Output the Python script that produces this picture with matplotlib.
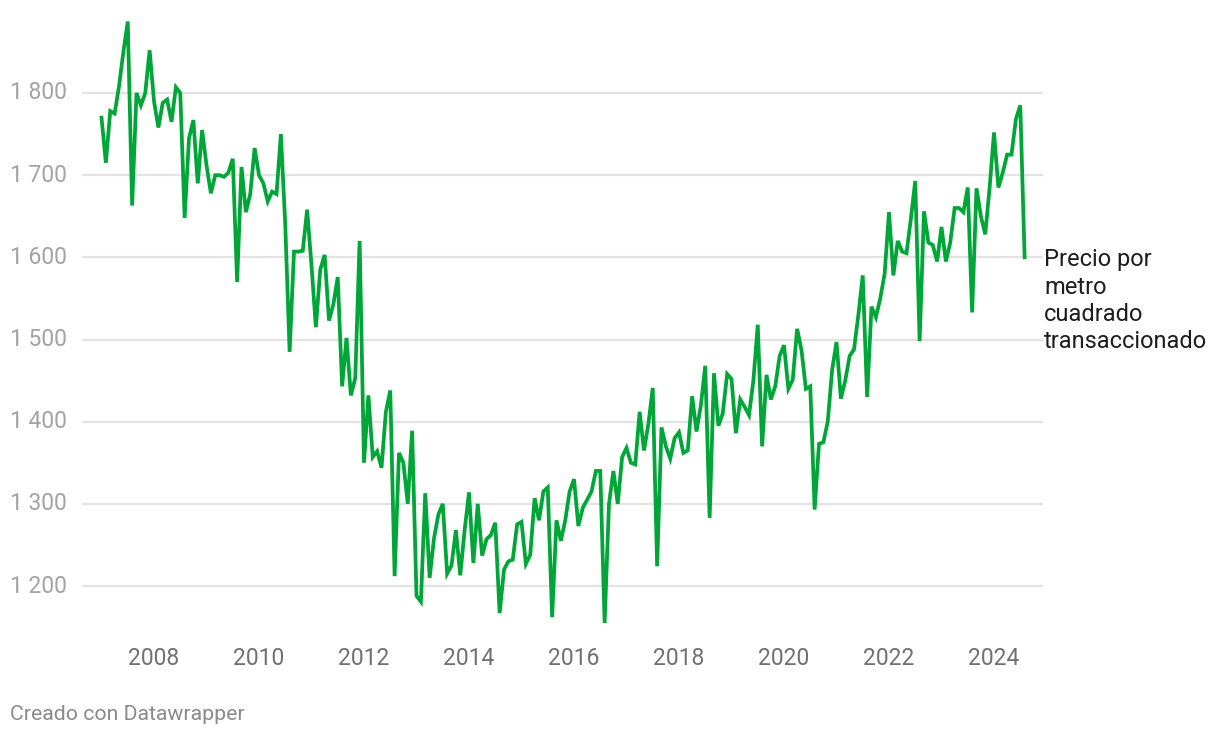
import matplotlib
matplotlib.use("Agg")
import matplotlib.pyplot as plt
import matplotlib.transforms as mtrans
import numpy as np

plt.rcParams['font.family'] = ['Roboto', 'DejaVu Sans']

start_year = 2007
prices = [
    # 2007
    1770, 1715, 1778, 1775, 1808, 1850, 1887, 1663, 1800, 1785, 1800, 1852,
    # 2008
    1790, 1758, 1788, 1792, 1765, 1807, 1800, 1648, 1745, 1767, 1690, 1755,
    # 2009
    1712, 1678, 1700, 1700, 1698, 1703, 1720, 1570, 1710, 1655, 1677, 1733,
    # 2010
    1700, 1690, 1668, 1680, 1677, 1750, 1640, 1485, 1607, 1607, 1608, 1658,
    # 2011
    1590, 1515, 1585, 1603, 1523, 1543, 1576, 1443, 1502, 1432, 1453, 1620,
    # 2012
    1350, 1432, 1357, 1364, 1344, 1412, 1438, 1212, 1362, 1350, 1300, 1389,
    # 2013
    1188, 1181, 1313, 1210, 1258, 1287, 1300, 1215, 1225, 1268, 1213, 1268,
    # 2014
    1314, 1228, 1300, 1237, 1257, 1262, 1277, 1167, 1220, 1230, 1232, 1275,
    # 2015
    1278, 1227, 1238, 1307, 1280, 1315, 1320, 1162, 1280, 1255, 1280, 1315,
    # 2016
    1330, 1273, 1295, 1305, 1315, 1340, 1340, 1155, 1300, 1340, 1300, 1357,
    # 2017
    1368, 1350, 1348, 1412, 1365, 1397, 1441, 1224, 1393, 1370, 1355, 1380,
    # 2018
    1387, 1362, 1365, 1431, 1388, 1420, 1468, 1283, 1459, 1395, 1410, 1458,
    # 2019
    1452, 1386, 1427, 1418, 1408, 1450, 1518, 1370, 1457, 1427, 1443, 1480,
    # 2020
    1493, 1440, 1451, 1513, 1487, 1440, 1443, 1293, 1373, 1375, 1400, 1463,
    # 2021
    1497, 1428, 1450, 1480, 1488, 1530, 1578, 1430, 1540, 1527, 1550, 1580,
    # 2022
    1655, 1578, 1620, 1607, 1605, 1647, 1693, 1498, 1656, 1618, 1615, 1595,
    # 2023
    1637, 1595, 1618, 1660, 1660, 1655, 1685, 1533, 1684, 1650, 1628, 1685,
    # 2024
    1752, 1685, 1703, 1725, 1725, 1768, 1785, 1600,
]
y_ticks = [1200, 1300, 1400, 1500, 1600, 1700, 1800]
x_ticks = [2008, 2010, 2012, 2014, 2016, 2018, 2020, 2022, 2024]
series_label = "Precio por\nmetro\ncuadrado\ntransaccionado"
credit = "Creado con Datawrapper"

x = start_year + np.arange(len(prices)) / 12.0

W, H = 1220, 738
fig = plt.figure(figsize=(W / 100, H / 100), dpi=100)
left_px, right_px, top_px, bottom_px = 82, 1043, 10, 630
ax = fig.add_axes([left_px / W, 1 - bottom_px / H, (right_px - left_px) / W, (bottom_px - top_px) / H])

# scales: Jan 2007 at px 101.5, 52.5 px per year; 1800 at py 93, 82.17 px per 100
px_per_year = 52.5
x0 = start_year - (101.5 - left_px) / px_per_year
x1 = start_year + (right_px - 101.5) / px_per_year
ppv = 0.8217
ytop = 1800 + (93 - top_px) / ppv
ybot = 1800 - (bottom_px - 93) / ppv
ax.set_xlim(x0, x1)
ax.set_ylim(ybot, ytop)

for yt in y_ticks:
    ax.axhline(yt, color='#e3e3e3', lw=1.6, zorder=1)

ax.plot(x, prices, color='#00a637', lw=2.7, solid_joinstyle='miter', zorder=3)

for s in ax.spines.values():
    s.set_visible(False)
ax.set_yticks([])
ax.set_xticks(x_ticks)
ax.set_xticklabels([str(t) for t in x_ticks])
ax.tick_params(axis='x', length=0, pad=12, labelsize=16.5, labelcolor='#707070')

trans = mtrans.blended_transform_factory(fig.transFigure, ax.transData)
for yt in y_ticks:
    lab = f"{yt:,}".replace(",", " ")
    ax.text(10 / W, yt, lab, transform=trans, ha='left', va='center',
            fontsize=16.5, color='#a3a3a3')

# series label to the right of the last point; first line centred on the last value
last_val = prices[-1]
label_trans = trans + mtrans.ScaledTranslation(0, 9 / 100, fig.dpi_scale_trans)
ax.text(1044 / W, last_val, series_label, transform=label_trans,
        ha='left', va='top', fontsize=17, color='#1d1d1d', linespacing=1.235,
        clip_on=False)

fig.text(10 / W, 1 - 714 / H, credit, ha='left', va='center', fontsize=15.3, color='#8a8a8a')

fig.savefig("out.png", dpi=100, facecolor='white')
